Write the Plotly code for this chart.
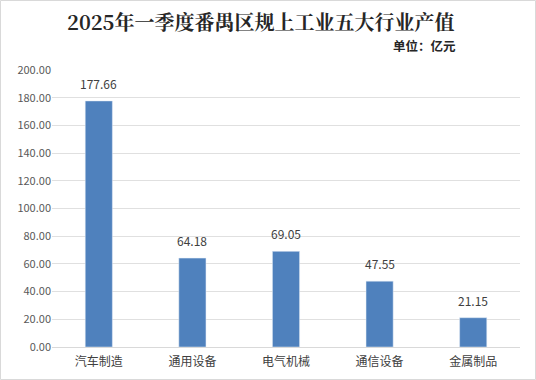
import plotly.graph_objects as go

categories = ["汽车制造", "通用设备", "电气机械", "通信设备", "金属制品"]
values = [177.66, 64.18, 69.05, 47.55, 21.15]
tick_vals = [0, 20, 40, 60, 80, 100, 120, 140, 160, 180, 200]
tick_text = [f"{v:.2f}" for v in tick_vals]

W, H = 536, 380
L, R, T, B = 52, 16, 70, 33
pw, ph = W - L - R, H - T - B

fig = go.Figure(go.Bar(
    x=categories, y=values,
    marker_color="#4F81BD", width=0.29,
    hoverinfo="skip",
))

def px_x(p):
    return (p - L) / pw

def px_y(p):
    return (H - B - p) / ph

annotations = [
    dict(x=c, y=v, xref="x", yref="y", text=f"{v:.2f}", showarrow=False,
         yanchor="bottom", yshift=7,
         font=dict(size=12, color="#404040", family="Noto Sans CJK SC"))
    for c, v in zip(categories, values)
]
annotations += [
    dict(text="<b>2025年一季度番禺区规上工业五大行业产值</b>", xref="paper", yref="paper",
         x=px_x(261), y=px_y(22), xanchor="center", yanchor="middle", showarrow=False,
         font=dict(size=20, color="#262626", family="Noto Serif CJK SC, Noto Sans CJK SC")),
    dict(text="<b>单位：亿元</b>", xref="paper", yref="paper",
         x=px_x(458), y=px_y(45), xanchor="right", yanchor="middle", showarrow=False,
         font=dict(size=12.5, color="#262626", family="Noto Sans CJK SC")),
]

fig.update_layout(
    width=W, height=H,
    margin=dict(l=L, r=R, t=T, b=B, autoexpand=False),
    paper_bgcolor="white", plot_bgcolor="white",
    showlegend=False,
    font=dict(family="Noto Sans CJK SC", color="#595959"),
    xaxis=dict(showgrid=False, showline=True, linecolor="#D9D9D9", linewidth=1,
               ticks="", automargin=False, ticklabelstandoff=4,
               tickfont=dict(size=12, color="#404040")),
    yaxis=dict(range=[0, 200], tickvals=tick_vals, ticktext=tick_text,
               showgrid=True, gridcolor="#E0E0E0", gridwidth=1, automargin=False,
               zeroline=False, showline=False, ticks="",
               tickfont=dict(size=11, color="#595959", family="Noto Sans CJK SC")),
    bargap=0.7,
    annotations=annotations,
    shapes=[dict(type="rect", xref="paper", yref="paper",
                 x0=px_x(0.5), x1=px_x(535.5), y0=px_y(379.5), y1=px_y(0.5),
                 line=dict(color="#D9D9D9", width=1), layer="below")],
)

fig.write_html("out.html", config={"displayModeBar": False},
               post_script="document.body.style.margin='0';document.body.style.overflow='hidden';")
